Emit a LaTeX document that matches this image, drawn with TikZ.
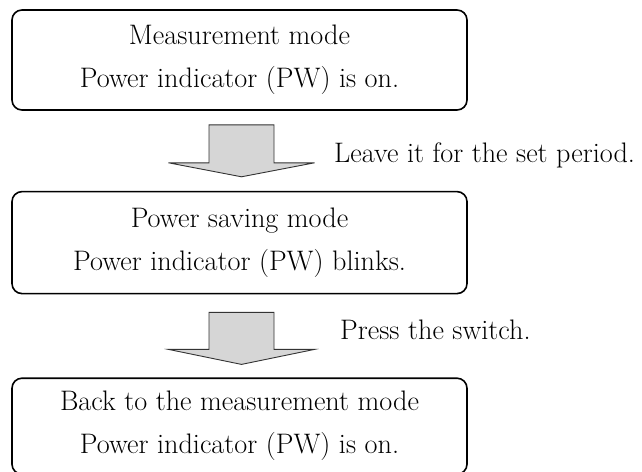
\documentclass[tikz,border=0pt]{standalone}
\usepackage{tikz}
\usetikzlibrary{positioning,calc}

\begin{document}
\begin{tikzpicture}[
  x=1pt, y=-1pt,
  font=\fontsize{28.2}{43}\selectfont,
  modebox/.style={draw, line width=1.6pt, rounded corners=10pt, align=center,
                  minimum width=455pt, minimum height=100pt, inner sep=0pt},
  blockarr/.style={draw=black!80, line width=0.9pt, fill=black!16, line join=miter},
  lbl/.style={anchor=west, inner sep=0pt}
]
\useasboundingbox (0,0) rectangle (642,471);
\node[modebox] (measure) at (239.5,60) {Measurement mode\\ Power indicator (PW) is on.};
\node[modebox, below=80pt of measure, minimum height=102pt] (saving) {Power saving mode\\ Power indicator (PW) blinks.};
\node[modebox, below=83pt of saving, minimum height=96pt] (back) {Back to the measurement mode\\ Power indicator (PW) is on.};

% block arrows between the modes
\draw[blockarr] ($(measure.south)+(2,14)$) ++(-32.5,0) -- ++(0,38) -- ++(-40.5,0)
  -- ++(73,14) -- ++(73,-14) -- ++(-40.5,0) -- ++(0,-38) -- cycle;
\draw[blockarr] ($(saving.south)+(2,18)$) ++(-32.5,0) -- ++(0,37) -- ++(-40.5,0)
  -- ++(73,15) -- ++(73,-15) -- ++(-40.5,0) -- ++(0,-37) -- cycle;

\node[lbl] (leave) at (334,155) {Leave it for the set period.};
\node[lbl] (press) at (340,330) {Press the switch.};
\end{tikzpicture}
\end{document}
